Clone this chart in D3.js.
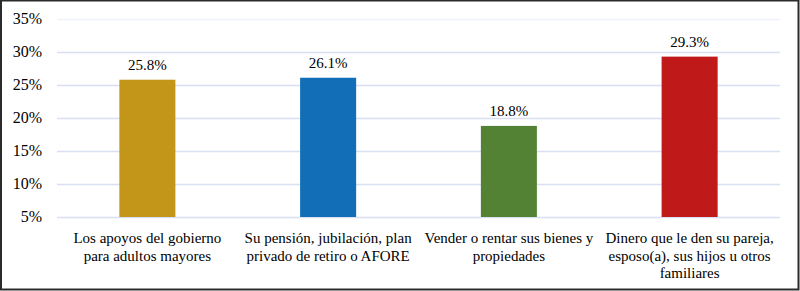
<!DOCTYPE html>
<html>
<head>
<meta charset="utf-8">
<script src="https://cdn.jsdelivr.net/npm/d3@7"></script>
<style>
  text { font-family: 'Liberation Serif', 'Times New Roman', Tinos, serif; }
</style>
</head>
<body style="margin:0">
<svg id="fig" width="800" height="291" style="display:block;background:#fff"></svg>
<script>
// Chart data
const categories = [
    ['Los apoyos del gobierno', 'para adultos mayores'],
    ['Su pensión, jubilación, plan', 'privado de retiro o AFORE'],
    ['Vender o rentar sus bienes y', 'propiedades'],
    ['Dinero que le den su pareja,', 'esposo(a), sus hijos u otros', 'familiares']
];
const values = [25.8, 26.1, 18.8, 29.3];
const barColors = ['#C39518', '#126FB7', '#548235', '#BF1919'];
const yTicks = [5, 10, 15, 20, 25, 30, 35];

const svg = d3.select('#fig');
const width = 800, height = 291;
const margin = { top: 19, right: 20, bottom: 74, left: 57 };

// Outer border
svg.append('rect')
    .attr('x', 1).attr('y', 0.5)
    .attr('width', width - 2.5).attr('height', height - 2)
    .attr('fill', 'none')
    .attr('stroke', '#2b2b2b')
    .attr('stroke-width', 2);

const x = d3.scaleBand()
    .domain(d3.range(categories.length))
    .range([margin.left, width - margin.right])
    .paddingInner(0.69)
    .paddingOuter(0.345);

const y = d3.scaleLinear().domain([5, 35]).range([height - margin.bottom, margin.top]);

// Gridlines
svg.append('g')
    .selectAll('line')
    .data(yTicks)
    .join('line')
    .attr('x1', margin.left).attr('x2', width - margin.right)
    .attr('y1', d => Math.round(y(d)) + 0.5)
    .attr('y2', d => Math.round(y(d)) + 0.5)
    .attr('stroke', d => d === 35 ? '#eef1f8' : '#d9e0f2')
    .attr('stroke-width', 1.5);

// Y tick labels
svg.selectAll('.ytick')
    .data(yTicks)
    .join('text')
    .attr('class', 'ytick')
    .attr('x', margin.left - 15)
    .attr('y', d => y(d))
    .attr('dy', '0.32em')
    .attr('text-anchor', 'end')
    .attr('font-size', 16)
    .attr('fill', '#000')
    .text(d => d + '%');

// Bars
svg.selectAll('.bar')
    .data(values)
    .join('rect')
    .attr('class', 'bar')
    .attr('x', (d, i) => x(i))
    .attr('width', x.bandwidth())
    .attr('y', d => y(d))
    .attr('height', d => y(5) - y(d))
    .attr('fill', (d, i) => barColors[i]);

// Value labels
svg.selectAll('.val')
    .data(values)
    .join('text')
    .attr('class', 'val')
    .attr('x', (d, i) => x(i) + x.bandwidth() / 2)
    .attr('y', d => y(d) - 10)
    .attr('text-anchor', 'middle')
    .attr('font-size', 15)
    .attr('fill', '#000')
    .text(d => d.toFixed(1) + '%');

// Category labels
const cat = svg.selectAll('.cat')
    .data(categories)
    .join('text')
    .attr('class', 'cat')
    .attr('text-anchor', 'middle')
    .attr('font-size', 15)
    .attr('fill', '#000');
cat.selectAll('tspan')
    .data((d, i) => d.map(line => ({ line, i })))
    .join('tspan')
    .attr('x', d => x(d.i) + x.bandwidth() / 2)
    .attr('y', (d, j) => y(5) + 26 + j * 17.5)
    .text(d => d.line);
</script>
</body>
</html>
